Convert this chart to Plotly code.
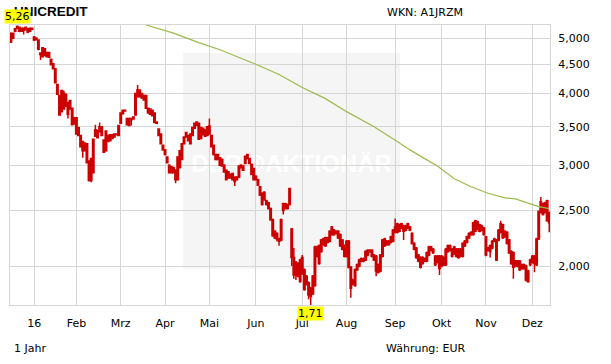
import math
import pandas as pd
import plotly.graph_objects as go

# ---------------- data ----------------
holidays = ["2015-12-24", "2015-12-25", "2015-12-31", "2016-01-01", "2016-03-25", "2016-03-28"]
days = [d.strftime("%Y-%m-%d") for d in pd.bdate_range("2015-12-14", "2016-12-13") if d.strftime("%Y-%m-%d") not in holidays]

open_ = [5.09,5.00,5.19,5.24,5.22,5.14,5.20,5.17,5.19,5.14,5.20,5.02,5.00,4.96,4.71,4.64,4.79,4.64,4.72,4.59,
         4.51,4.42,4.15,3.67,4.05,3.76,3.99,3.68,3.89,3.77,3.63,3.63,3.49,3.38,3.30,3.18,3.27,3.05,2.82,2.91,
         3.37,3.45,3.43,3.50,3.32,3.18,3.38,3.31,3.34,3.36,3.40,3.38,3.55,3.69,3.74,3.62,3.52,3.60,3.61,3.67,
         3.95,4.06,4.00,3.97,3.97,3.77,3.68,3.66,3.70,3.57,3.47,3.40,3.25,3.19,3.10,3.00,2.91,2.97,2.94,2.83,
         3.18,3.07,3.27,3.36,3.38,3.27,3.38,3.55,3.52,3.55,3.49,3.48,3.37,3.38,3.40,3.38,3.25,3.13,3.07,3.09,
         3.07,3.00,2.94,2.92,2.85,2.90,2.86,2.83,2.86,2.97,2.99,3.02,3.08,3.08,3.01,2.96,2.87,2.83,2.75,2.56,
         2.69,2.60,2.58,2.52,2.41,2.30,2.23,2.23,2.22,2.50,2.57,2.52,2.56,2.32,2.07,1.93,2.02,1.88,1.94,1.97,
         1.92,1.87,1.83,1.79,1.85,2.08,2.17,2.12,2.18,2.17,2.24,2.21,2.27,2.31,2.30,2.24,2.27,2.22,2.17,2.08,
         2.21,1.99,1.89,1.85,1.97,2.00,2.04,2.06,2.05,2.09,2.13,2.13,2.09,2.08,2.01,1.96,2.08,2.17,2.21,2.18,
         2.20,2.21,2.29,2.37,2.30,2.33,2.35,2.31,2.37,2.34,2.28,2.19,2.15,2.09,2.07,2.02,2.06,2.04,2.09,2.16,
         2.14,2.08,2.03,2.08,2.00,2.07,2.01,2.12,2.17,2.14,2.10,2.14,2.14,2.08,2.08,2.17,2.20,2.24,2.27,2.27,
         2.30,2.39,2.30,2.35,2.33,2.25,2.13,2.12,2.15,2.21,2.05,2.22,2.37,2.36,2.30,2.29,2.22,2.12,2.11,2.04,
         2.00,2.04,1.98,2.01,2.00,1.88,2.01,2.03,2.08,2.01,2.23,2.48,2.57,2.58,2.60,2.38]
close = [4.92,5.10,5.14,5.20,5.14,5.20,5.16,5.22,5.12,5.20,5.18,4.96,4.97,4.78,4.68,4.81,4.66,4.72,4.63,4.49,
         4.42,4.18,3.99,3.97,3.72,4.01,3.80,3.86,3.76,3.53,3.54,3.40,3.38,3.23,3.18,3.28,3.03,2.82,3.08,3.33,
         3.46,3.35,3.50,3.38,3.16,3.44,3.30,3.39,3.39,3.40,3.39,3.52,3.70,3.74,3.73,3.53,3.62,3.62,3.64,4.00,
         4.06,3.95,3.93,3.90,3.77,3.70,3.76,3.74,3.56,3.55,3.38,3.27,3.19,3.13,3.03,2.91,2.98,2.91,2.83,3.10,
         2.97,3.27,3.36,3.42,3.31,3.40,3.49,3.48,3.57,3.33,3.34,3.39,3.46,3.50,3.51,3.23,3.13,3.07,3.13,3.00,
         2.99,2.92,2.83,2.85,2.89,2.83,2.81,2.86,2.99,3.00,2.94,3.11,3.13,3.02,2.89,2.83,2.83,2.77,2.66,2.68,
         2.61,2.56,2.52,2.41,2.26,2.24,2.28,2.21,2.41,2.57,2.52,2.56,2.73,2.07,1.93,2.03,1.92,2.05,2.07,1.82,
         1.86,1.78,1.77,1.92,2.16,2.16,2.02,2.22,2.23,2.24,2.20,2.30,2.34,2.27,2.28,2.30,2.17,2.14,2.08,2.21,
         1.99,1.83,1.86,1.97,2.01,2.05,2.06,2.04,2.12,2.13,2.12,2.08,2.05,1.96,1.95,2.09,2.22,2.23,2.18,2.21,
         2.25,2.31,2.34,2.29,2.36,2.37,2.30,2.35,2.33,2.31,2.19,2.14,2.07,2.04,1.99,2.07,2.04,2.11,2.16,2.13,
         2.11,2.01,2.08,1.98,2.08,2.01,2.14,2.17,2.13,2.08,2.16,2.08,2.07,2.14,2.19,2.21,2.25,2.28,2.29,2.38,
         2.40,2.32,2.36,2.31,2.27,2.09,2.15,2.17,2.21,2.23,2.22,2.31,2.29,2.24,2.25,2.19,2.11,2.02,1.99,2.00,
         2.04,1.97,2.01,1.98,1.89,1.96,2.05,2.08,2.02,2.23,2.49,2.59,2.46,2.48,2.40,2.48]
high = [5.12,5.11,5.20,5.26,5.24,5.21,5.21,5.23,5.20,5.21,5.21,5.04,5.01,4.97,4.72,4.82,4.80,4.73,4.73,4.60,
        4.52,4.43,4.16,3.98,4.06,4.05,4.00,3.87,3.90,3.78,3.64,3.64,3.50,3.39,3.31,3.29,3.28,3.06,3.09,3.34,
        3.53,3.46,3.56,3.51,3.33,3.45,3.39,3.40,3.40,3.41,3.41,3.53,3.71,3.75,3.75,3.63,3.63,3.63,3.65,4.01,
        4.14,4.07,4.01,3.98,3.98,3.78,3.77,3.75,3.71,3.58,3.48,3.41,3.26,3.20,3.11,3.01,2.99,2.98,2.95,3.11,
        3.19,3.28,3.37,3.43,3.39,3.41,3.50,3.56,3.58,3.56,3.50,3.49,3.47,3.51,3.62,3.39,3.26,3.14,3.14,3.10,
        3.08,3.01,2.95,2.93,2.90,2.91,2.87,2.87,3.00,3.01,3.00,3.12,3.14,3.09,3.02,2.97,2.88,2.84,2.76,2.69,
        2.70,2.61,2.59,2.53,2.42,2.31,2.29,2.24,2.42,2.58,2.58,2.57,2.74,2.33,2.15,2.04,2.03,2.06,2.09,1.98,
        1.93,1.88,1.84,1.93,2.17,2.17,2.18,2.23,2.24,2.25,2.25,2.31,2.35,2.32,2.31,2.31,2.28,2.23,2.18,2.22,
        2.22,2.00,1.90,1.98,2.02,2.06,2.07,2.07,2.13,2.14,2.14,2.14,2.10,2.09,2.02,2.10,2.23,2.24,2.22,2.22,
        2.26,2.32,2.42,2.38,2.37,2.38,2.36,2.36,2.38,2.35,2.29,2.20,2.16,2.10,2.08,2.08,2.07,2.12,2.17,2.17,
        2.15,2.09,2.09,2.09,2.09,2.08,2.15,2.18,2.18,2.15,2.17,2.15,2.15,2.15,2.20,2.22,2.26,2.29,2.30,2.39,
        2.41,2.40,2.37,2.36,2.34,2.26,2.16,2.18,2.22,2.24,2.23,2.32,2.40,2.37,2.31,2.30,2.23,2.13,2.12,2.05,
        2.05,2.05,2.02,2.02,2.01,1.97,2.06,2.09,2.09,2.24,2.50,2.64,2.58,2.59,2.61,2.49]
low = [4.90,4.98,5.12,5.18,5.12,5.13,5.07,5.16,5.11,5.13,5.17,4.94,4.95,4.76,4.58,4.63,4.65,4.63,4.62,4.48,
       4.41,4.17,3.98,3.66,3.71,3.75,3.79,3.62,3.75,3.52,3.53,3.39,3.37,3.22,3.09,3.17,3.02,2.81,2.80,2.90,
       3.36,3.34,3.42,3.37,3.15,3.17,3.29,3.30,3.33,3.35,3.38,3.37,3.54,3.68,3.72,3.52,3.51,3.52,3.60,3.66,
       3.94,3.94,3.92,3.89,3.76,3.69,3.67,3.65,3.55,3.54,3.37,3.26,3.18,3.12,3.02,2.90,2.90,2.90,2.79,2.82,
       2.96,3.06,3.26,3.35,3.30,3.26,3.37,3.47,3.51,3.32,3.33,3.38,3.36,3.37,3.39,3.22,3.12,3.06,3.06,2.99,
       2.98,2.91,2.82,2.84,2.84,2.82,2.76,2.82,2.85,2.96,2.93,3.01,3.07,3.01,2.88,2.82,2.82,2.76,2.65,2.55,
       2.60,2.55,2.51,2.40,2.25,2.23,2.21,2.17,2.21,2.46,2.51,2.51,2.55,2.00,1.90,1.89,1.91,1.87,1.93,1.81,
       1.85,1.75,1.71,1.78,1.84,2.07,2.01,2.11,2.17,2.16,2.19,2.20,2.26,2.26,2.27,2.23,2.16,2.13,2.07,2.07,
       1.98,1.76,1.85,1.84,1.96,1.99,2.03,2.03,2.04,2.08,2.11,2.07,2.04,1.92,1.94,1.95,2.07,2.16,2.17,2.17,
       2.19,2.20,2.28,2.28,2.29,2.32,2.22,2.30,2.32,2.30,2.18,2.13,2.06,2.03,1.98,2.01,2.03,2.03,2.08,2.12,
       2.10,2.00,2.02,1.93,1.99,2.00,2.00,2.11,2.12,2.07,2.09,2.07,2.06,2.07,2.07,2.16,2.19,2.23,2.26,2.26,
       2.29,2.31,2.29,2.30,2.26,2.08,2.12,2.07,2.14,2.20,2.04,2.21,2.28,2.23,2.24,2.18,2.10,2.01,1.90,1.99,
       1.99,1.96,1.97,1.97,1.88,1.87,2.00,2.02,1.95,2.00,2.22,2.47,2.45,2.47,2.39,2.29]

# 200-day moving average (read at selected trading days)
ma_idx = [64, 77, 89, 99, 116, 127, 138, 149, 159, 172, 183, 189, 196, 202, 210, 218, 226, 234, 239, 244, 250, 255]
ma_val = [5.27, 5.10, 4.91, 4.77, 4.50, 4.32, 4.10, 3.92, 3.72, 3.50, 3.30, 3.19, 3.08, 2.99, 2.84, 2.75, 2.68, 2.63, 2.62, 2.58, 2.54, 2.52]

month_ticks = ["2016-01-04", "2016-02-01", "2016-03-01", "2016-04-01", "2016-05-02", "2016-06-01",
               "2016-07-01", "2016-08-01", "2016-09-01", "2016-10-03", "2016-11-01", "2016-12-01"]
month_text = ["16", "Feb", "Mrz", "Apr", "Mai", "Jun", "Jul", "Aug", "Sep", "Okt", "Nov", "Dez"]
y_ticks = [2.0, 2.5, 3.0, 3.5, 4.0, 4.5, 5.0]

RED = "#cc0000"
GRID = "#d6d6d6"
FONT = "DejaVu Sans"

fig = go.Figure()
fig.add_trace(go.Candlestick(
    x=days, open=open_, high=high, low=low, close=close,
    increasing=dict(line=dict(color=RED, width=1.5), fillcolor="white"),
    decreasing=dict(line=dict(color=RED, width=1.5), fillcolor=RED),
    whiskerwidth=0, hoverinfo="skip", showlegend=False,
))
fig.add_trace(go.Scatter(
    x=[days[i] for i in ma_idx], y=ma_val, mode="lines",
    line=dict(color="#9cbb4a", width=1.2), hoverinfo="skip", showlegend=False,
))

imax = high.index(max(high))
imin = low.index(min(low))

fig.update_layout(
    width=611, height=364,
    margin=dict(l=10, r=61, t=25, b=59),
    paper_bgcolor="white", plot_bgcolor="white",
    separators=",.",
    boxgap=0.0,
    font=dict(family=FONT, size=11, color="black"),
    showlegend=False,
    hovermode=False,
    xaxis=dict(
        type="category", range=[-0.45, len(days) - 0.65],
        tickmode="array", tickvals=month_ticks, ticktext=month_text,
        showgrid=True, gridcolor=GRID, gridwidth=1,
        showline=True, linecolor=GRID, linewidth=1, mirror=True,
        ticks="", rangeslider=dict(visible=False),
        tickfont=dict(family=FONT, size=11, color="black"),
        ticklabelstandoff=8,
    ),
    yaxis=dict(
        type="log", side="right",
        range=[math.log10(1.71), math.log10(5.27)],
        tickmode="array", tickvals=y_ticks, tickformat=".3f",
        showgrid=True, gridcolor=GRID, gridwidth=1,
        showline=True, linecolor=GRID, linewidth=1, mirror=True,
        ticks="", zeroline=False,
        tickfont=dict(family=FONT, size=11, color="black"),
        ticklabelstandoff=5,
    ),
    shapes=[dict(
        type="rect", xref="paper", yref="paper",
        x0=(183 - 10) / 540, x1=(400 - 10) / 540, y0=(305 - 269) / 280, y1=(305 - 53) / 280,
        fillcolor="#f5f5f5", line=dict(width=0), layer="below",
        label=dict(text="<b>DER@AKTIONÄR</b>", font=dict(family="Liberation Sans", size=24, color="white"),
                   textposition="middle center"),
    )],
    annotations=[
        dict(text="<b>UNICREDIT</b>", xref="paper", yref="paper", x=(12 - 10) / 540, y=(305 - 12) / 280,
             xanchor="left", yanchor="middle", showarrow=False,
             font=dict(family="Liberation Sans", size=13.5, color="black")),
        dict(text="WKN: A1JRZM", xref="paper", yref="paper", x=(465 - 10) / 540, y=(305 - 13) / 280,
             xanchor="right", yanchor="middle", showarrow=False, font=dict(family=FONT, size=11)),
        dict(text="1 Jahr", xref="paper", yref="paper", x=(12 - 10) / 540, y=(305 - 349) / 280,
             xanchor="left", yanchor="middle", showarrow=False, font=dict(family=FONT, size=11)),
        dict(text="Währung: EUR", xref="paper", yref="paper", x=(468 - 10) / 540, y=(305 - 349) / 280,
             xanchor="right", yanchor="middle", showarrow=False, font=dict(family=FONT, size=11)),
        dict(text=f"{max(high):.2f}".replace(".", ","), x=days[imax], y=math.log10(max(high)),
             xref="x", yref="y", xanchor="center", yanchor="bottom", showarrow=False, yshift=1,
             bgcolor="#ffff00", borderpad=0, font=dict(family=FONT, size=11, color="black")),
        dict(text=f"{min(low):.2f}".replace(".", ","), x=days[imin], y=math.log10(min(low)),
             xref="x", yref="y", xanchor="center", yanchor="top", showarrow=False, yshift=-1,
             bgcolor="#ffff00", borderpad=0, font=dict(family=FONT, size=11, color="black")),
    ],
)

fig.write_html("out.html")
